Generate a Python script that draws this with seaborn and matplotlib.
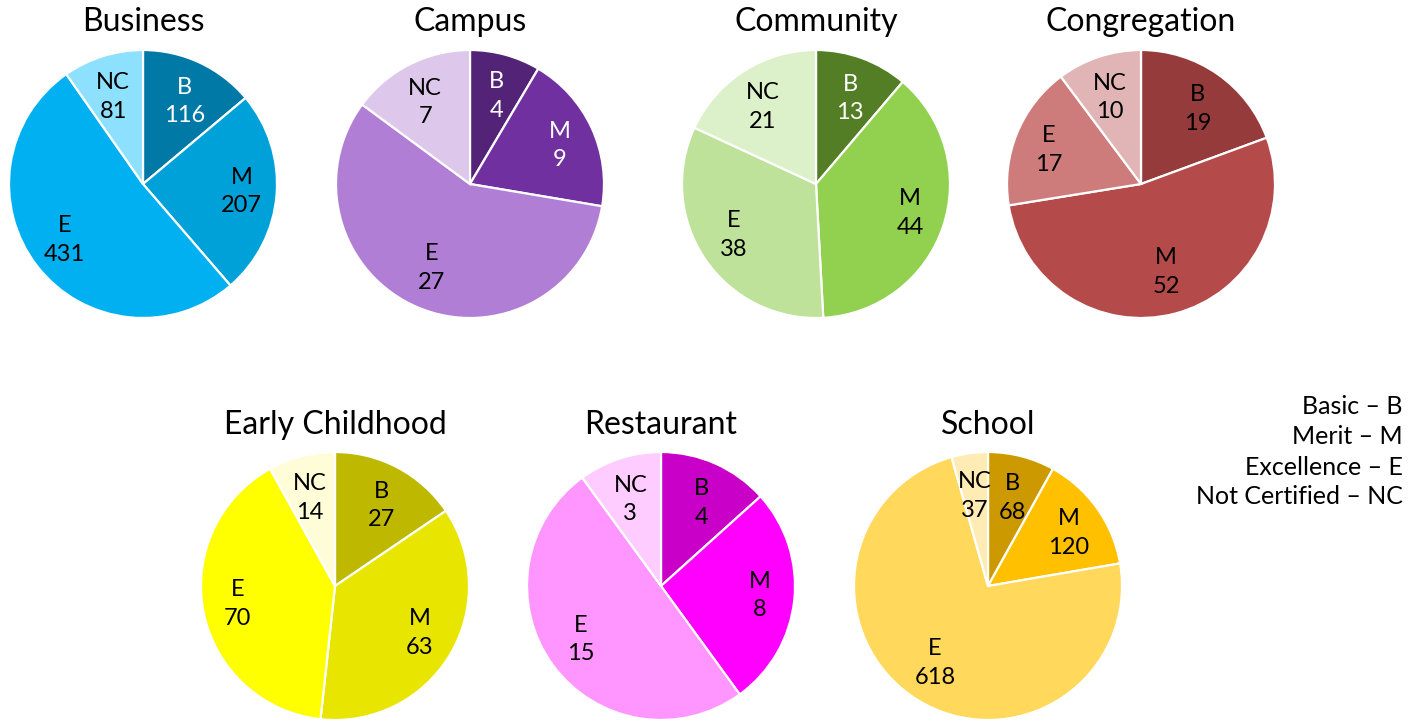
import numpy as np
import matplotlib
matplotlib.use("Agg")
import matplotlib.pyplot as plt
import seaborn as sns

sns.set_theme(style="white")
plt.rcParams["font.family"] = ["Lato", "DejaVu Sans"]

# Certification levels, in the order wedges are drawn (clockwise from 12 o'clock)
levels = ["B", "M", "E", "NC"]
legend_lines = ["Basic \u2013 B", "Merit \u2013 M", "Excellence \u2013 E", "Not Certified \u2013 NC"]

# Counts per sector
business = [116, 207, 431, 81]
campus = [4, 9, 27, 7]
community = [13, 44, 38, 21]
congregation = [19, 52, 17, 10]
early_childhood = [27, 63, 70, 14]
restaurant = [4, 8, 15, 3]
school = [68, 120, 618, 37]

sectors = ["Business", "Campus", "Community", "Congregation",
           "Early Childhood", "Restaurant", "School"]
counts = [business, campus, community, congregation,
          early_childhood, restaurant, school]

# Shades per sector (B, M, E, NC) and label text colours
palettes = [
    ["#0079A6", "#00A0D9", "#00B0F0", "#8DE1FF"],
    ["#522377", "#7030A0", "#B07ED5", "#DDC7EB"],
    ["#537E25", "#92D050", "#BEE29A", "#DCF0C9"],
    ["#953B3B", "#B44B4A", "#CD7C7B", "#E1B5B5"],
    ["#BEB800", "#E8E500", "#FFFF00", "#FFFDD8"],
    ["#C800C8", "#FF00FF", "#FF96FF", "#FFCCFF"],
    ["#CC9A00", "#FFC000", "#FFD85C", "#FFEBB3"],
]
text_colors = [
    ["white", "black", "black", "black"],
    ["white", "white", "black", "black"],
    ["white", "black", "black", "black"],
    ["black"] * 4,
    ["black"] * 4,
    ["black"] * 4,
    ["black"] * 4,
]

W, H = 1419, 725
fig = plt.figure(figsize=(W / 100, H / 100), dpi=100)
fig.patch.set_facecolor("white")

R = 134  # pie radius in pixels
centers = [(143, 184), (470, 184), (816, 184), (1141, 184),
           (335, 586), (661, 586), (988, 586)]
title_y = [22, 22, 22, 22, 425, 425, 425]

for name, vals, cols, tcols, (cx, cy), ty in zip(sectors, counts, palettes,
                                                 text_colors, centers, title_y):
    ax = fig.add_axes([(cx - R) / W, 1 - (cy + R) / H, 2 * R / W, 2 * R / H])
    wedges, _ = ax.pie(vals, colors=cols, startangle=90, counterclock=False,
                       radius=1.0, wedgeprops=dict(edgecolor="white", linewidth=1.6))
    ax.set_xlim(-1.0, 1.0)
    ax.set_ylim(-1.0, 1.0)
    ax.set_aspect("equal")
    ax.axis("off")
    # soft rim around each pie
    ax.add_patch(plt.Circle((0, 0), 0.995, facecolor="none", edgecolor="#cfcfcf",
                            lw=1.5, zorder=0.5, clip_on=False))
    for w, lab, v, tc in zip(wedges, levels, vals, tcols):
        mid = np.deg2rad((w.theta1 + w.theta2) / 2)
        ax.text(0.74 * np.cos(mid), 0.68 * np.sin(mid), f"{lab}\n{v}",
                ha="center", va="center", fontsize=17, color=tc,
                linespacing=1.45)
    fig.text(cx / W, 1 - ty / H, name, ha="center", va="center",
             fontsize=23, color="black")

for i, line in enumerate(legend_lines):
    fig.text(1403 / W, 1 - (407 + 30 * i) / H, line, ha="right", va="center",
             fontsize=18, color="black")

fig.savefig("out.png", dpi=100, facecolor="white")
